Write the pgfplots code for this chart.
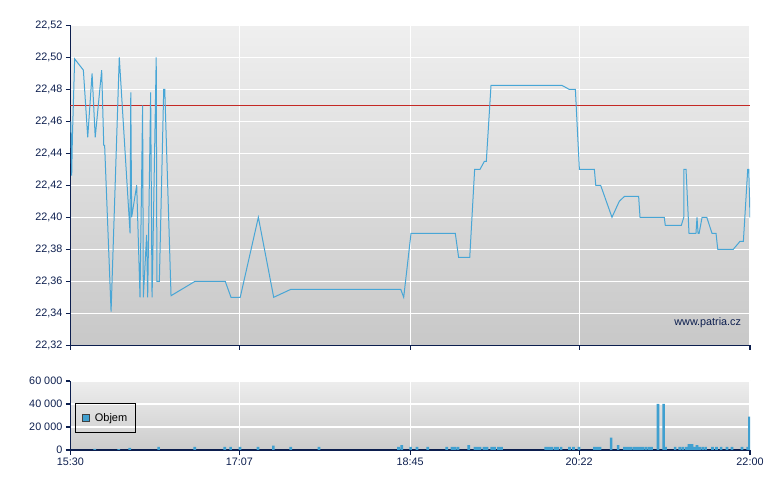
\documentclass[border=0pt]{standalone}
\usepackage{pgfplots}
\pgfplotsset{compat=1.18}
\usepackage{fontspec}
\setmainfont{Liberation Sans}

\definecolor{navy}{RGB}{12,30,78}
\definecolor{price}{RGB}{72,166,214}
\definecolor{vol}{RGB}{64,160,208}
\definecolor{refline}{RGB}{196,40,36}

\pgfplotsset{
  patria/.style={
    scale only axis,
    width=679.7bp,
    anchor=south west,
    xmin=0, xmax=390,
    axis x line=bottom, axis y line=left,
    axis line style={-, navy, line width=1.3bp},
    grid=major,
    major grid style={white, line width=1.1bp},
    tick align=outside,
    major tick length=4.5bp,
    tick style={navy, line width=1.1bp},
    xtick={0,97,195,292,390},
    ticklabel style={font=\fontsize{10.8bp}{12bp}\selectfont, text=navy},
    /pgf/number format/assume math mode=true,
    clip=true,
  },
}

\begin{document}
\begin{tikzpicture}
\path[use as bounding box] (0,0) rectangle (780bp,490bp);

% price panel
\begin{axis}[
  patria,
  at={(70.3bp,144.7bp)},
  height=320bp,
  ymin=22.32, ymax=22.52,
  ytick={22.32,22.34,...,22.52},
  xticklabels={},
  yticklabel style={/pgf/number format/.cd, fixed, fixed zerofill, precision=2, use comma},
  axis background/.style={shade, top color={rgb,255:red,239;green,239;blue,239}, bottom color={rgb,255:red,200;green,200;blue,200}},
]
  % reference line
  \addplot[refline, line width=1bp] coordinates {(0,22.47) (390,22.47)};

  % price
  \addplot[price, line width=1bp] coordinates {
    (0.3,22.460) (0.8,22.426) (1.2,22.450) (2.5,22.499) (7.5,22.492)
    (10.0,22.450) (12.5,22.490) (14.3,22.450) (18.0,22.492) (19.2,22.445)
    (19.7,22.445) (23.4,22.341) (28.1,22.500) (34.3,22.390) (34.7,22.478)
    (35.2,22.400) (38.1,22.420) (40.0,22.350) (41.5,22.470) (41.9,22.350)
    (43.8,22.389) (44.4,22.350) (46.1,22.478) (46.9,22.350) (47.1,22.360)
    (49.3,22.500) (49.7,22.360) (51.1,22.360) (53.6,22.480) (54.2,22.480)
    (57.8,22.351) (71.6,22.360) (88.9,22.360) (92.2,22.350) (97.5,22.350)
    (107.9,22.400) (116.7,22.350) (126.6,22.355) (189.6,22.355) (191.3,22.350)
    (195.5,22.390) (220.9,22.390) (222.8,22.375) (229.2,22.375) (232.0,22.430)
    (235.1,22.430) (237.6,22.435) (238.7,22.435) (241.4,22.4825) (282.0,22.4825)
    (286.2,22.480) (289.8,22.480) (292.1,22.430) (300.7,22.430) (301.5,22.420)
    (304.3,22.420) (310.8,22.400) (315.0,22.410) (317.9,22.413) (326.1,22.413)
    (326.9,22.400) (340.8,22.400) (341.4,22.395) (350.6,22.395) (352.0,22.400)
    (352.1,22.430) (353.3,22.430) (355.0,22.390) (359.0,22.390) (359.6,22.400)
    (360.2,22.390) (360.8,22.390) (362.5,22.400) (365.2,22.400) (368.2,22.390)
    (370.5,22.390) (371.5,22.380) (380.4,22.380) (384.3,22.385) (386.2,22.385)
    (388.7,22.430) (389.3,22.430) (390.0,22.400)
  };

  \node[anchor=east, text=navy, font=\fontsize{10.8bp}{12bp}\selectfont]
    at (rel axis cs:0.992,0.07) {www.patria.cz};
\end{axis}

% volume panel
\begin{axis}[
  patria,
  at={(70.3bp,40bp)},
  height=69bp,
  ymin=0, ymax=60000,
  ytick={0,20000,40000,60000},
  yticklabels={0,20 000,40 000,60 000},
  xticklabels={15:30,17:07,18:45,20:22,22:00},
  scaled y ticks=false,
  axis background/.style={shade, top color={rgb,255:red,237;green,237;blue,237}, bottom color={rgb,255:red,204;green,204;blue,204}},
  legend style={
    at={(0.007,0.25)}, anchor=south west,
    draw=black, line width=0.9bp, fill=none,
    font=\fontsize{11bp}{12bp}\selectfont,
    inner xsep=6bp, inner ysep=7.5bp,
  },
  legend image code/.code={
    \draw[fill=vol, draw=black!75, line width=0.7bp] (0bp,-3.5bp) rectangle (7bp,3.5bp);
    \path (11bp,0bp);
  },
]
  \addplot[ybar, bar width=1.5, fill=vol, draw=none] coordinates {
    (14.0,900) (27.8,700) (34.1,1800) (50.7,2700) (71.4,2700) (88.6,2700)
    (92.0,2700) (97.4,2700) (107.7,2700) (116.5,3800) (126.5,2700) (142.7,2700)
    (188.3,2700) (190.2,4300) (195.3,2700) (198.9,2700) (205.1,2700) (216.0,2700)
    (219.0,2700) (220.7,2700) (222.5,2700) (228.6,4300) (232.2,2700) (233.4,2700)
    (235.1,2700) (237.4,2700) (239.1,2700) (241.8,2700) (243.5,2700) (245.7,2700)
    (247.4,2700) (272.8,2700) (274.5,2700) (276.2,2700) (278.0,2700) (279.6,2700)
    (281.6,2700) (286.4,2700) (288.7,2700) (291.9,2700) (300.8,2700) (302.5,2700)
    (304.0,2700) (310.3,10800) (314.3,4200) (318.0,2700) (319.7,2700) (321.4,2700)
    (323.2,2700) (324.9,2700) (326.6,2700) (328.3,2700) (330.1,2700) (331.8,2700)
    (333.5,2700) (337.2,40000) (340.4,40000) (341.5,2700) (347.0,2700) (349.6,2700)
    (351.3,2700) (353.3,2700) (355.0,5000) (356.7,5000) (357.9,2700) (359.6,4200)
    (361.0,2700) (362.8,2700) (364.5,2700) (368.5,2700) (370.8,2700) (373.4,2700)
    (376.8,2700) (379.7,2700) (385.4,2700) (388.6,2700) (389.7,29000)
  };
  \addlegendentry{Objem}
\end{axis}
\end{tikzpicture}
\end{document}
